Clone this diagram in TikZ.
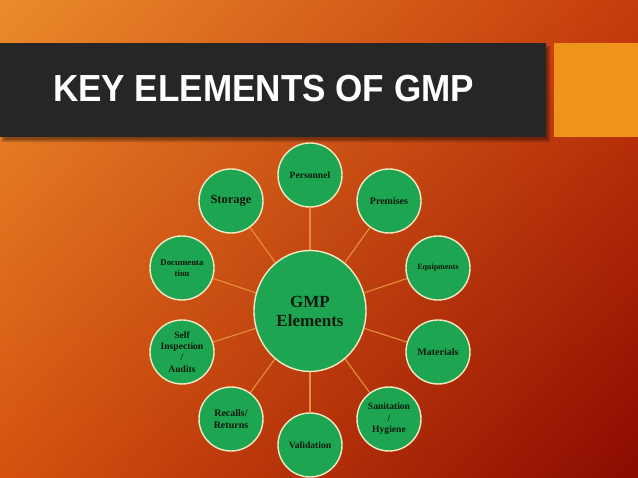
\documentclass[tikz,border=0pt]{standalone}
\usepackage{fontspec}
\setmainfont{Liberation Serif}
\newfontfamily\headfont{Liberation Sans}
\usetikzlibrary{shapes,shadings,backgrounds,shadows,shadows.blur}

\definecolor{bgtl}{HTML}{EA8B2C}
\definecolor{bgtr}{HTML}{C63C0B}
\definecolor{bgbl}{HTML}{D5520F}
\definecolor{bgbr}{HTML}{8C0A01}
\definecolor{barc}{HTML}{262626}
\definecolor{tabc}{HTML}{F0931A}
\definecolor{leaf}{HTML}{1EA552}
\definecolor{rim}{HTML}{F1E8C4}
\definecolor{wire}{HTML}{E68F3A}
\definecolor{ink}{HTML}{0A1A0C}

\begin{document}
\begin{tikzpicture}[x=1pt,y=-1pt,inner sep=0pt,
  elem/.style={circle,draw=rim,line width=1.4pt,fill=leaf,minimum size=64pt,
    align=center,text=ink,font=\bfseries\fontsize{9.6}{11.3}\selectfont},
  hub/.style={ellipse,draw=rim,line width=1.4pt,fill=leaf,minimum width=112pt,
    minimum height=121pt,align=center,text=ink,font=\bfseries\fontsize{17}{19}\selectfont},
  link/.style={draw=wire,line width=1.1pt}]

% slide background and title strip
\begin{scope}[on background layer]
\shade[upper left=bgtl,upper right=bgtr,lower left=bgbl,lower right=bgbr]
  (0,0) rectangle (638,478);
\fill[barc,blur shadow={shadow xshift=3pt,shadow yshift=-4pt,shadow opacity=40}]
  (0,43) rectangle (546,137);
\fill[tabc] (554,43) rectangle (638,137);
\end{scope}
\node[anchor=base west,text=white,font=\headfont\bfseries\fontsize{37.7}{40}\selectfont]
  (title) at (53,102) {\scalebox{0.93}[1]{KEY ELEMENTS OF GMP}};

% centre and ring of elements
\node[hub] (gmp) at (310,311) {GMP\\Elements};
\node[elem] (pers) at (310,175) {Personnel};
\node[elem,font=\bfseries\fontsize{10}{11.3}\selectfont] (prem) at (389,201) {Premises};
\node[elem,font=\bfseries\fontsize{8}{10}\selectfont] (equip) at (438,268) {Equipments};
\node[elem,font=\bfseries\fontsize{10}{11.3}\selectfont] (mat) at (438,352) {Materials};
\node[elem] (sani) at (389,419) {Sanitation\\/\\Hygiene};
\node[elem] (valid) at (310,445) {Validation};
\node[elem,font=\bfseries\fontsize{10}{11.3}\selectfont] (recall) at (231,419) {Recalls/\\Returns};
\node[elem] (audit) at (182,352) {Self\\Inspection\\/\\Audits};
\node[elem,font=\bfseries\fontsize{8.8}{11}\selectfont] (docu) at (182,268) {Documenta\\tion};
\node[elem,font=\bfseries\fontsize{12.5}{14}\selectfont] (store) at (231,201) {Storage};

\begin{scope}[on background layer]
\foreach \n in {pers,prem,equip,mat,sani,valid,recall,audit,docu,store}
  \draw[link] (gmp) -- (\n);
\end{scope}
\end{tikzpicture}
\end{document}
